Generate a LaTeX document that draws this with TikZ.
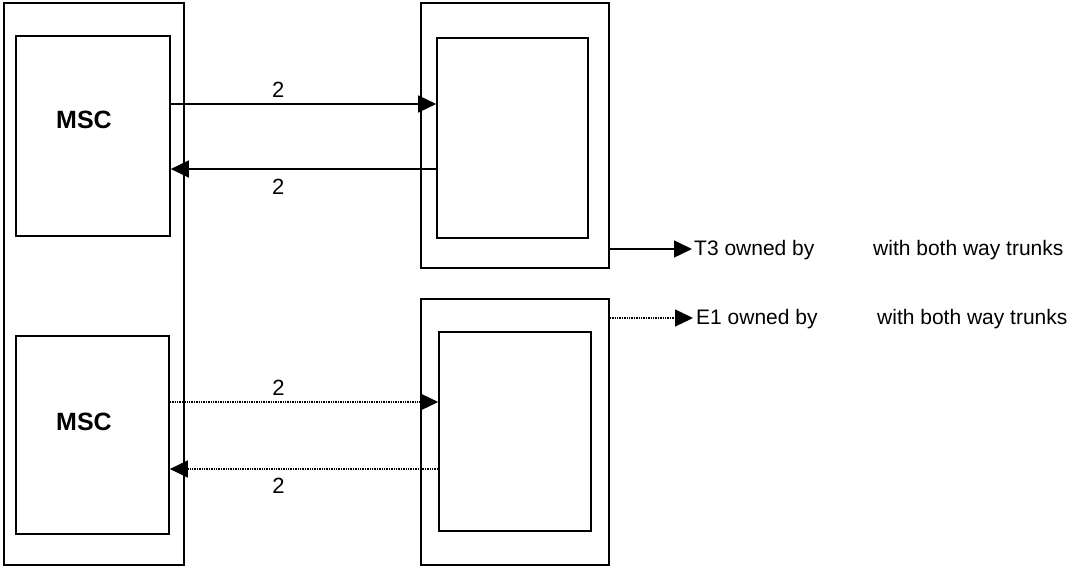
\documentclass[tikz,border=0pt]{standalone}
\usepackage{fontspec}
\setmainfont{Liberation Sans}
\usetikzlibrary{arrows.meta, positioning}

\begin{document}
\begin{tikzpicture}[x=1pt,y=-1pt,
    box/.style={draw, line width=1.6pt, inner sep=0pt},
    link/.style={line width=1.4pt, -{Triangle[length=18pt,width=17pt]}},
    dotlink/.style={line width=1.3pt, dash pattern=on 1.4pt off 1pt, -{Triangle[length=18pt,width=17pt]}},
    lbl/.style={font=\fontsize{22}{25}\selectfont, inner sep=0pt},
    msc/.style={font=\fontsize{25}{28}\selectfont\bfseries, inner sep=0pt},
    note/.style={font=\fontsize{21}{25}\selectfont, inner sep=0pt, anchor=west}]
  \useasboundingbox (0,0) rectangle (1072,569);
  % switch side
  \node[box, minimum width=180pt, minimum height=562pt] (swtch) at (94,284) {};
  \node[box, minimum width=154pt, minimum height=200pt] (mscA) at (93,136) {};
  \node[box, minimum width=153pt, minimum height=198pt] (mscB) at (92.5,435) {};
  \node[msc] (mscAtxt) at (84,120) {MSC};
  \node[msc] (mscBtxt) at (84,422) {MSC};
  % far side
  \node[box, minimum width=188pt, minimum height=265pt] (outA) at (515,135.5) {};
  \node[box, minimum width=151pt, minimum height=200pt] (inA) at (512.5,138) {};
  \node[box, minimum width=188pt, minimum height=266pt] (outB) at (515,432) {};
  \node[box, minimum width=152pt, minimum height=199pt] (inB) at (515,431.5) {};
  % trunks
  \coordinate (a1) at ([yshift=32pt]mscA.east);
  \coordinate (a2) at ([yshift=-33pt]mscA.east);
  \coordinate (b1) at ([yshift=33pt]mscB.east);
  \coordinate (b2) at ([yshift=-34pt]mscB.east);
  \draw[link] (a1) -- (a1 -| inA.west) node[lbl, pos=0.405, above=6pt] (n1) {2};
  \draw[link] (a2 -| inA.west) -- (a2) node[lbl, pos=0.595, below=9pt] (n2) {2};
  \draw[dotlink] (b1) -- (b1 -| inB.west) node[lbl, pos=0.405, above=6pt] (n3) {2};
  \draw[dotlink] (b2 -| inB.west) -- (b2) node[lbl, pos=0.595, below=8pt] (n4) {2};
  % outgoing
  \coordinate (tA) at ([yshift=-113.5pt]outA.east);
  \coordinate (tB) at ([yshift=114pt]outB.east);
  \node[note] (t3) at (694,250) {T3 owned by};
  \node[note] (t3b) at (873,250) {with both way trunks};
  \node[note] (e1) at (696,319) {E1 owned by};
  \node[note] (e1b) at (877,319) {with both way trunks};
  \draw[link, shorten >=2pt] (tA) -- (tA -| t3.west);
  \draw[dotlink, shorten >=3pt] (tB) -- (tB -| e1.west);
\end{tikzpicture}
\end{document}
